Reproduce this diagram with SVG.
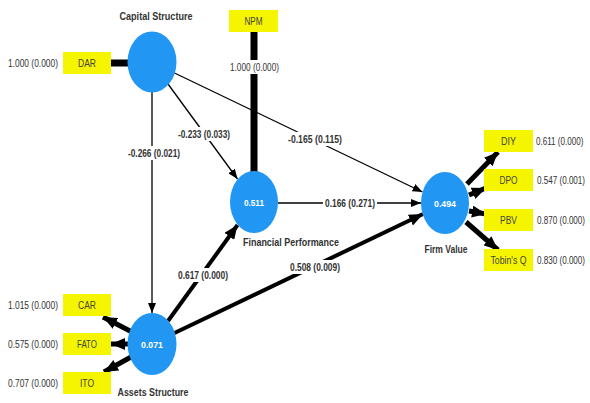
<svg xmlns="http://www.w3.org/2000/svg" width="590" height="403" viewBox="0 0 590 403">
<style>
text{font-family:"Liberation Sans",Arial,sans-serif;fill:#333}
.lv{fill:#2196f3}
.ind{fill:#f5f500}
.in{font-size:10.5px;text-anchor:middle;fill:#444}
.val{font-size:9.5px;font-weight:bold;fill:#fff;text-anchor:middle}
.nm{font-size:11px;font-weight:bold;text-anchor:middle}
.ld{font-size:10.5px}
.pc{font-size:10px;font-weight:bold;text-anchor:middle}
.thin{stroke:#000;stroke-width:1.3;fill:none}
.thick{stroke:#000;fill:none}
.bg{fill:#fff}
</style>
<defs>
<marker id="ah" markerUnits="userSpaceOnUse" markerWidth="10" markerHeight="8" refX="10" refY="4" orient="auto">
<path d="M0,0 L10,4 L0,8 z" fill="#000"/>
</marker>
<marker id="ahb" markerUnits="userSpaceOnUse" markerWidth="14" markerHeight="12" refX="14" refY="6" orient="auto">
<path d="M0,0 L14,6 L0,12 z" fill="#000"/>
</marker>
</defs>
<rect width="590" height="403" fill="#fff"/>
<g id="connectors">
<line class="thick" x1="111" y1="63" x2="129" y2="63" stroke-width="7"/>
<line class="thick" x1="254" y1="32" x2="254" y2="172" stroke-width="7"/>
<line class="thin" x1="152" y1="92" x2="152" y2="313" marker-end="url(#ah)"/>
<line class="thin" x1="168" y1="84" x2="237.5" y2="179" marker-end="url(#ah)"/>
<line class="thin" x1="174.5" y1="73" x2="422.5" y2="192" marker-end="url(#ah)"/>
<line class="thin" x1="278" y1="203" x2="421" y2="203" marker-end="url(#ah)"/>
<line class="thick" x1="168" y1="321" x2="237.5" y2="225" stroke-width="4" marker-end="url(#ahb)"/>
<line class="thick" x1="174.5" y1="333" x2="423" y2="214" stroke-width="4" marker-end="url(#ahb)"/>
<line class="thick" x1="467" y1="184" x2="498" y2="152" stroke-width="5" marker-end="url(#ahb)"/>
<line class="thick" x1="469" y1="195" x2="486" y2="188" stroke-width="5" marker-end="url(#ahb)"/>
<line class="thick" x1="469" y1="211" x2="486" y2="214" stroke-width="5" marker-end="url(#ahb)"/>
<line class="thick" x1="466" y1="222" x2="498" y2="250" stroke-width="5" marker-end="url(#ahb)"/>
<line class="thick" x1="132" y1="332" x2="103" y2="317" stroke-width="5" marker-end="url(#ahb)"/>
<line class="thick" x1="129" y1="344" x2="111" y2="344" stroke-width="5" marker-end="url(#ahb)"/>
<line class="thick" x1="131" y1="357" x2="104" y2="372" stroke-width="5" marker-end="url(#ahb)"/>
<rect class="bg" x="229" y="60" width="51" height="14"/>
<text class="ld" x="254.5" y="71" text-anchor="middle" textLength="49" lengthAdjust="spacingAndGlyphs">1.000 (0.000)</text>
<rect class="bg" x="127" y="146" width="54" height="14"/>
<text class="pc" x="154" y="157" textLength="52" lengthAdjust="spacingAndGlyphs">-0.266 (0.021)</text>
<rect class="bg" x="177" y="127" width="54" height="14"/>
<text class="pc" x="204" y="138" textLength="52" lengthAdjust="spacingAndGlyphs">-0.233 (0.033)</text>
<rect class="bg" x="287" y="132" width="56" height="14"/>
<text class="pc" x="315" y="143" textLength="54" lengthAdjust="spacingAndGlyphs">-0.165 (0.115)</text>
<rect class="bg" x="323" y="197" width="54" height="13"/>
<text class="pc" x="350" y="207" textLength="50" lengthAdjust="spacingAndGlyphs">0.166 (0.271)</text>
<rect class="bg" x="176" y="268" width="54" height="14"/>
<text class="pc" x="203" y="279" textLength="50" lengthAdjust="spacingAndGlyphs">0.617 (0.000)</text>
<rect class="bg" x="288" y="260" width="54" height="14"/>
<text class="pc" x="315" y="271" textLength="50" lengthAdjust="spacingAndGlyphs">0.508 (0.009)</text>
</g>
<g id="capital-structure">
<ellipse class="lv" cx="152" cy="62" rx="24.5" ry="30.5"/>
<text class="nm" x="156" y="20" textLength="73" lengthAdjust="spacingAndGlyphs">Capital Structure</text>
</g>
<g id="financial-performance">
<ellipse class="lv" cx="254" cy="202" rx="24" ry="31"/>
<text class="val" x="254" y="206" textLength="20" lengthAdjust="spacingAndGlyphs">0.511</text>
<text class="nm" x="291" y="246" textLength="96" lengthAdjust="spacingAndGlyphs">Financial Performance</text>
</g>
<g id="firm-value">
<ellipse class="lv" cx="445" cy="203" rx="24" ry="31"/>
<text class="val" x="445" y="207" textLength="22" lengthAdjust="spacingAndGlyphs">0.494</text>
<text class="nm" x="446" y="253" textLength="43" lengthAdjust="spacingAndGlyphs">Firm Value</text>
</g>
<g id="assets-structure">
<ellipse class="lv" cx="152" cy="344" rx="24.5" ry="31"/>
<text class="val" x="152" y="348" textLength="22" lengthAdjust="spacingAndGlyphs">0.071</text>
<text class="nm" x="153" y="396" textLength="71" lengthAdjust="spacingAndGlyphs">Assets Structure</text>
</g>
<g id="DAR">
<rect class="ind" x="63" y="52" width="48" height="22"/>
<text class="in" x="87" y="67" textLength="18" lengthAdjust="spacingAndGlyphs">DAR</text>
<text class="ld" x="8" y="67" textLength="50" lengthAdjust="spacingAndGlyphs">1.000 (0.000)</text>
</g>
<g id="NPM">
<rect class="ind" x="229" y="10" width="49" height="22"/>
<text class="in" x="253.5" y="25" textLength="18" lengthAdjust="spacingAndGlyphs">NPM</text>
</g>
<g id="CAR">
<rect class="ind" x="63" y="294" width="48" height="22"/>
<text class="in" x="87" y="309" textLength="18" lengthAdjust="spacingAndGlyphs">CAR</text>
<text class="ld" x="8" y="309" textLength="50" lengthAdjust="spacingAndGlyphs">1.015 (0.000)</text>
</g>
<g id="FATO">
<rect class="ind" x="63" y="333" width="48" height="22"/>
<text class="in" x="87" y="348" textLength="20" lengthAdjust="spacingAndGlyphs">FATO</text>
<text class="ld" x="8" y="348" textLength="50" lengthAdjust="spacingAndGlyphs">0.575 (0.000)</text>
</g>
<g id="ITO">
<rect class="ind" x="63" y="372" width="48" height="22"/>
<text class="in" x="87" y="387" textLength="14" lengthAdjust="spacingAndGlyphs">ITO</text>
<text class="ld" x="8" y="387" textLength="50" lengthAdjust="spacingAndGlyphs">0.707 (0.000)</text>
</g>
<g id="DIY">
<rect class="ind" x="484" y="130" width="49" height="22"/>
<text class="in" x="508.5" y="145" textLength="15" lengthAdjust="spacingAndGlyphs">DIY</text>
<text class="ld" transform="translate(536,145) scale(0.77,1)">0.611 (0.000)</text>
</g>
<g id="DPO">
<rect class="ind" x="484" y="169" width="49" height="22"/>
<text class="in" x="508.5" y="184" textLength="18" lengthAdjust="spacingAndGlyphs">DPO</text>
<text class="ld" transform="translate(537,184) scale(0.77,1)">0.547 (0.001)</text>
</g>
<g id="PBV">
<rect class="ind" x="484" y="209" width="49" height="22"/>
<text class="in" x="508.5" y="224" textLength="17" lengthAdjust="spacingAndGlyphs">PBV</text>
<text class="ld" transform="translate(537,224) scale(0.77,1)">0.870 (0.000)</text>
</g>
<g id="TobinsQ">
<rect class="ind" x="484" y="249" width="49" height="22"/>
<text class="in" x="508.5" y="264" textLength="36" lengthAdjust="spacingAndGlyphs">Tobin's Q</text>
<text class="ld" transform="translate(537,264) scale(0.77,1)">0.830 (0.000)</text>
</g>
</svg>
